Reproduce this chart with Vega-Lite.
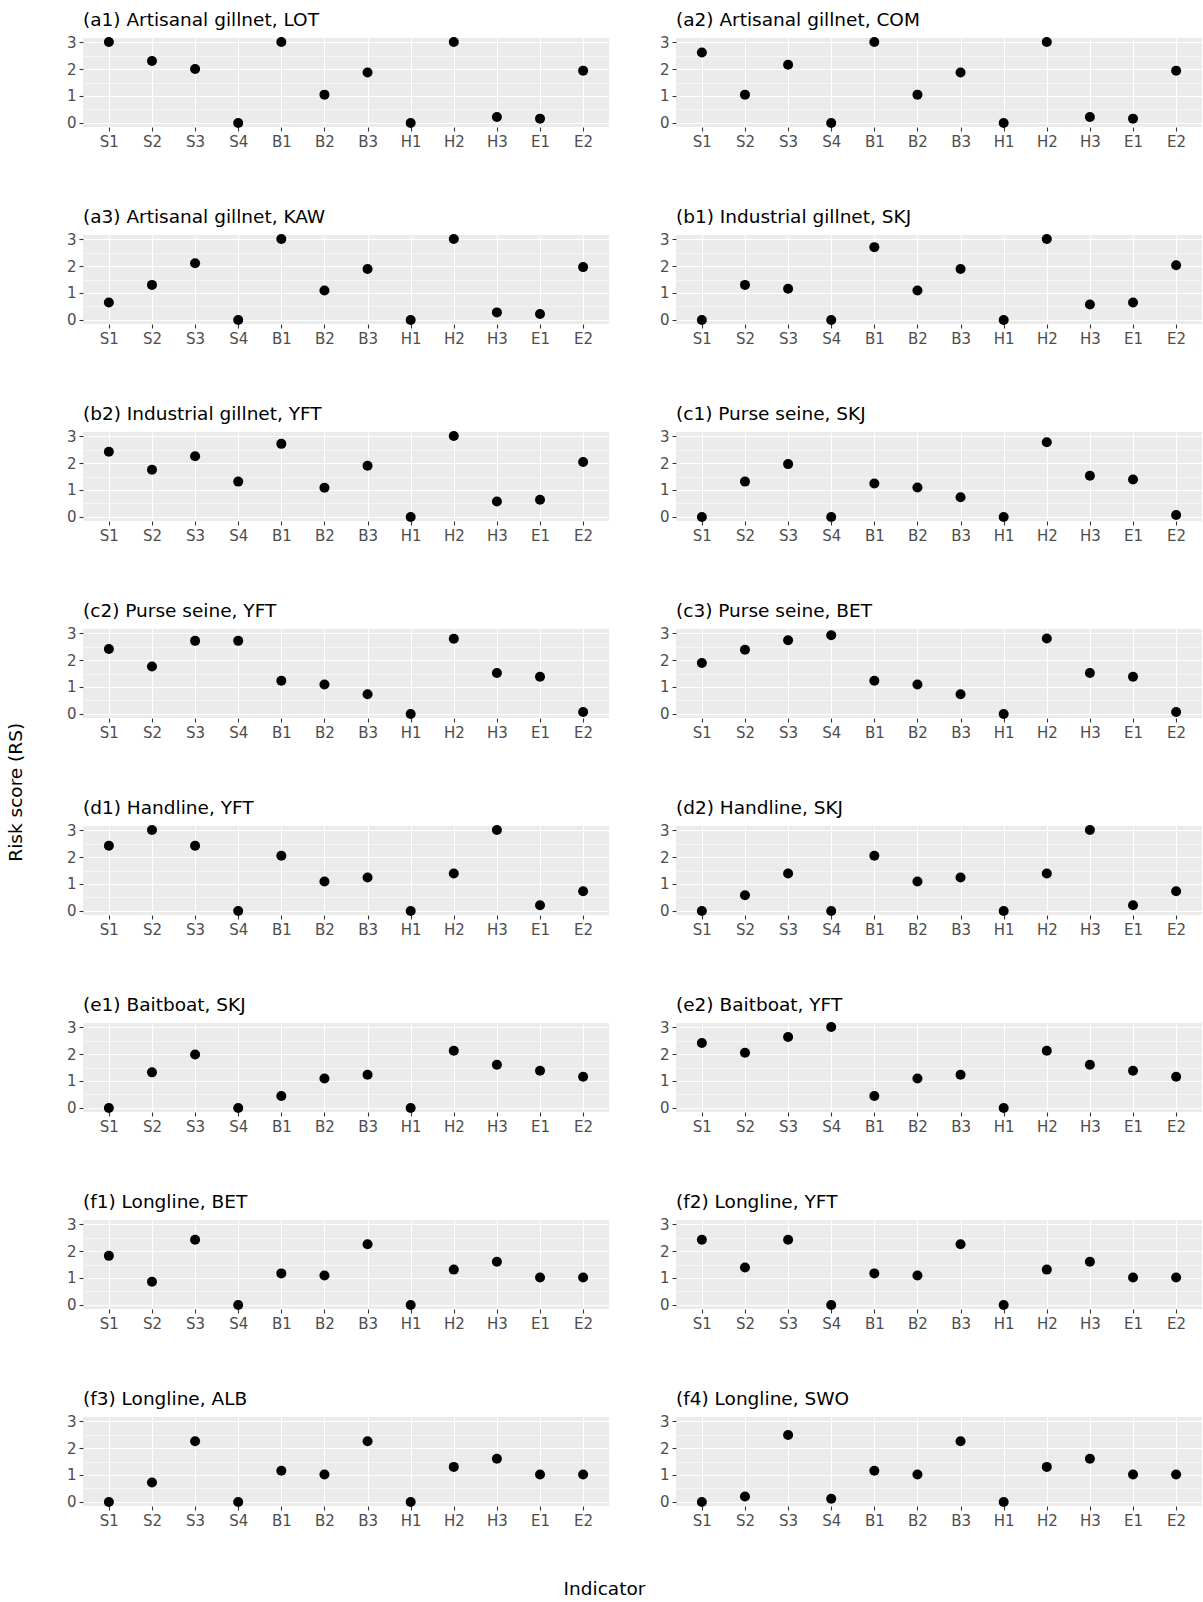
{
  "$schema": "https://vega.github.io/schema/vega-lite/v6.json",
  "background": "white",
  "padding": {"left": 6, "top": 10, "right": 0, "bottom": 4},
  "title": {"text": "Indicator", "orient": "bottom", "anchor": "middle", "fontSize": 18.5, "font": "DejaVu Sans", "fontWeight": "normal", "color": "black", "offset": 52},
  "config": {
    "view": {"fill": "#EBEBEB", "stroke": null},
    "font": "DejaVu Sans",
    "axis": {"domain": false, "tickColor": "#333333", "tickSize": 4, "tickWidth": 1.1, "labelColor": "#4D4D4D", "labelFontSize": 15, "labelFont": "DejaVu Sans", "labelPadding": 3, "gridColor": "white", "title": null}
  },
  "vconcat": [
    {
      "title": {"text": "Risk score (RS)", "orient": "left", "anchor": "middle", "fontSize": 18.5, "font": "DejaVu Sans", "fontWeight": "normal", "color": "black", "offset": 41, "dx": -23},
      "data": {"values": [
        {"panel": "(a1) Artisanal gillnet, LOT", "indicator": "S1", "rs": 3},
        {"panel": "(a1) Artisanal gillnet, LOT", "indicator": "S2", "rs": 2.3},
        {"panel": "(a1) Artisanal gillnet, LOT", "indicator": "S3", "rs": 2.0},
        {"panel": "(a1) Artisanal gillnet, LOT", "indicator": "S4", "rs": 0},
        {"panel": "(a1) Artisanal gillnet, LOT", "indicator": "B1", "rs": 3},
        {"panel": "(a1) Artisanal gillnet, LOT", "indicator": "B2", "rs": 1.05},
        {"panel": "(a1) Artisanal gillnet, LOT", "indicator": "B3", "rs": 1.87},
        {"panel": "(a1) Artisanal gillnet, LOT", "indicator": "H1", "rs": 0},
        {"panel": "(a1) Artisanal gillnet, LOT", "indicator": "H2", "rs": 3},
        {"panel": "(a1) Artisanal gillnet, LOT", "indicator": "H3", "rs": 0.22},
        {"panel": "(a1) Artisanal gillnet, LOT", "indicator": "E1", "rs": 0.16},
        {"panel": "(a1) Artisanal gillnet, LOT", "indicator": "E2", "rs": 1.94},
        {"panel": "(a2) Artisanal gillnet, COM", "indicator": "S1", "rs": 2.61},
        {"panel": "(a2) Artisanal gillnet, COM", "indicator": "S2", "rs": 1.05},
        {"panel": "(a2) Artisanal gillnet, COM", "indicator": "S3", "rs": 2.16},
        {"panel": "(a2) Artisanal gillnet, COM", "indicator": "S4", "rs": 0},
        {"panel": "(a2) Artisanal gillnet, COM", "indicator": "B1", "rs": 3},
        {"panel": "(a2) Artisanal gillnet, COM", "indicator": "B2", "rs": 1.05},
        {"panel": "(a2) Artisanal gillnet, COM", "indicator": "B3", "rs": 1.87},
        {"panel": "(a2) Artisanal gillnet, COM", "indicator": "H1", "rs": 0},
        {"panel": "(a2) Artisanal gillnet, COM", "indicator": "H2", "rs": 3},
        {"panel": "(a2) Artisanal gillnet, COM", "indicator": "H3", "rs": 0.22},
        {"panel": "(a2) Artisanal gillnet, COM", "indicator": "E1", "rs": 0.16},
        {"panel": "(a2) Artisanal gillnet, COM", "indicator": "E2", "rs": 1.94},
        {"panel": "(a3) Artisanal gillnet, KAW", "indicator": "S1", "rs": 0.65},
        {"panel": "(a3) Artisanal gillnet, KAW", "indicator": "S2", "rs": 1.3},
        {"panel": "(a3) Artisanal gillnet, KAW", "indicator": "S3", "rs": 2.1},
        {"panel": "(a3) Artisanal gillnet, KAW", "indicator": "S4", "rs": 0},
        {"panel": "(a3) Artisanal gillnet, KAW", "indicator": "B1", "rs": 3},
        {"panel": "(a3) Artisanal gillnet, KAW", "indicator": "B2", "rs": 1.09},
        {"panel": "(a3) Artisanal gillnet, KAW", "indicator": "B3", "rs": 1.89},
        {"panel": "(a3) Artisanal gillnet, KAW", "indicator": "H1", "rs": 0},
        {"panel": "(a3) Artisanal gillnet, KAW", "indicator": "H2", "rs": 3},
        {"panel": "(a3) Artisanal gillnet, KAW", "indicator": "H3", "rs": 0.28},
        {"panel": "(a3) Artisanal gillnet, KAW", "indicator": "E1", "rs": 0.22},
        {"panel": "(a3) Artisanal gillnet, KAW", "indicator": "E2", "rs": 1.96},
        {"panel": "(b1) Industrial gillnet, SKJ", "indicator": "S1", "rs": 0},
        {"panel": "(b1) Industrial gillnet, SKJ", "indicator": "S2", "rs": 1.3},
        {"panel": "(b1) Industrial gillnet, SKJ", "indicator": "S3", "rs": 1.16},
        {"panel": "(b1) Industrial gillnet, SKJ", "indicator": "S4", "rs": 0},
        {"panel": "(b1) Industrial gillnet, SKJ", "indicator": "B1", "rs": 2.7},
        {"panel": "(b1) Industrial gillnet, SKJ", "indicator": "B2", "rs": 1.09},
        {"panel": "(b1) Industrial gillnet, SKJ", "indicator": "B3", "rs": 1.89},
        {"panel": "(b1) Industrial gillnet, SKJ", "indicator": "H1", "rs": 0},
        {"panel": "(b1) Industrial gillnet, SKJ", "indicator": "H2", "rs": 3},
        {"panel": "(b1) Industrial gillnet, SKJ", "indicator": "H3", "rs": 0.57},
        {"panel": "(b1) Industrial gillnet, SKJ", "indicator": "E1", "rs": 0.65},
        {"panel": "(b1) Industrial gillnet, SKJ", "indicator": "E2", "rs": 2.03},
        {"panel": "(b2) Industrial gillnet, YFT", "indicator": "S1", "rs": 2.42},
        {"panel": "(b2) Industrial gillnet, YFT", "indicator": "S2", "rs": 1.75},
        {"panel": "(b2) Industrial gillnet, YFT", "indicator": "S3", "rs": 2.25},
        {"panel": "(b2) Industrial gillnet, YFT", "indicator": "S4", "rs": 1.31},
        {"panel": "(b2) Industrial gillnet, YFT", "indicator": "B1", "rs": 2.71},
        {"panel": "(b2) Industrial gillnet, YFT", "indicator": "B2", "rs": 1.08},
        {"panel": "(b2) Industrial gillnet, YFT", "indicator": "B3", "rs": 1.9},
        {"panel": "(b2) Industrial gillnet, YFT", "indicator": "H1", "rs": 0},
        {"panel": "(b2) Industrial gillnet, YFT", "indicator": "H2", "rs": 3},
        {"panel": "(b2) Industrial gillnet, YFT", "indicator": "H3", "rs": 0.57},
        {"panel": "(b2) Industrial gillnet, YFT", "indicator": "E1", "rs": 0.64},
        {"panel": "(b2) Industrial gillnet, YFT", "indicator": "E2", "rs": 2.04},
        {"panel": "(c1) Purse seine, SKJ", "indicator": "S1", "rs": 0},
        {"panel": "(c1) Purse seine, SKJ", "indicator": "S2", "rs": 1.31},
        {"panel": "(c1) Purse seine, SKJ", "indicator": "S3", "rs": 1.96},
        {"panel": "(c1) Purse seine, SKJ", "indicator": "S4", "rs": 0},
        {"panel": "(c1) Purse seine, SKJ", "indicator": "B1", "rs": 1.24},
        {"panel": "(c1) Purse seine, SKJ", "indicator": "B2", "rs": 1.09},
        {"panel": "(c1) Purse seine, SKJ", "indicator": "B3", "rs": 0.73},
        {"panel": "(c1) Purse seine, SKJ", "indicator": "H1", "rs": 0},
        {"panel": "(c1) Purse seine, SKJ", "indicator": "H2", "rs": 2.77},
        {"panel": "(c1) Purse seine, SKJ", "indicator": "H3", "rs": 1.53},
        {"panel": "(c1) Purse seine, SKJ", "indicator": "E1", "rs": 1.39},
        {"panel": "(c1) Purse seine, SKJ", "indicator": "E2", "rs": 0.07},
        {"panel": "(c2) Purse seine, YFT", "indicator": "S1", "rs": 2.41},
        {"panel": "(c2) Purse seine, YFT", "indicator": "S2", "rs": 1.76},
        {"panel": "(c2) Purse seine, YFT", "indicator": "S3", "rs": 2.71},
        {"panel": "(c2) Purse seine, YFT", "indicator": "S4", "rs": 2.71},
        {"panel": "(c2) Purse seine, YFT", "indicator": "B1", "rs": 1.23},
        {"panel": "(c2) Purse seine, YFT", "indicator": "B2", "rs": 1.09},
        {"panel": "(c2) Purse seine, YFT", "indicator": "B3", "rs": 0.73},
        {"panel": "(c2) Purse seine, YFT", "indicator": "H1", "rs": 0},
        {"panel": "(c2) Purse seine, YFT", "indicator": "H2", "rs": 2.79},
        {"panel": "(c2) Purse seine, YFT", "indicator": "H3", "rs": 1.52},
        {"panel": "(c2) Purse seine, YFT", "indicator": "E1", "rs": 1.38},
        {"panel": "(c2) Purse seine, YFT", "indicator": "E2", "rs": 0.07},
        {"panel": "(c3) Purse seine, BET", "indicator": "S1", "rs": 1.89},
        {"panel": "(c3) Purse seine, BET", "indicator": "S2", "rs": 2.38},
        {"panel": "(c3) Purse seine, BET", "indicator": "S3", "rs": 2.73},
        {"panel": "(c3) Purse seine, BET", "indicator": "S4", "rs": 2.92},
        {"panel": "(c3) Purse seine, BET", "indicator": "B1", "rs": 1.23},
        {"panel": "(c3) Purse seine, BET", "indicator": "B2", "rs": 1.09},
        {"panel": "(c3) Purse seine, BET", "indicator": "B3", "rs": 0.73},
        {"panel": "(c3) Purse seine, BET", "indicator": "H1", "rs": 0},
        {"panel": "(c3) Purse seine, BET", "indicator": "H2", "rs": 2.8},
        {"panel": "(c3) Purse seine, BET", "indicator": "H3", "rs": 1.52},
        {"panel": "(c3) Purse seine, BET", "indicator": "E1", "rs": 1.38},
        {"panel": "(c3) Purse seine, BET", "indicator": "E2", "rs": 0.07},
        {"panel": "(d1) Handline, YFT", "indicator": "S1", "rs": 2.42},
        {"panel": "(d1) Handline, YFT", "indicator": "S2", "rs": 3},
        {"panel": "(d1) Handline, YFT", "indicator": "S3", "rs": 2.42},
        {"panel": "(d1) Handline, YFT", "indicator": "S4", "rs": 0},
        {"panel": "(d1) Handline, YFT", "indicator": "B1", "rs": 2.05},
        {"panel": "(d1) Handline, YFT", "indicator": "B2", "rs": 1.09},
        {"panel": "(d1) Handline, YFT", "indicator": "B3", "rs": 1.24},
        {"panel": "(d1) Handline, YFT", "indicator": "H1", "rs": 0},
        {"panel": "(d1) Handline, YFT", "indicator": "H2", "rs": 1.39},
        {"panel": "(d1) Handline, YFT", "indicator": "H3", "rs": 3},
        {"panel": "(d1) Handline, YFT", "indicator": "E1", "rs": 0.21},
        {"panel": "(d1) Handline, YFT", "indicator": "E2", "rs": 0.73},
        {"panel": "(d2) Handline, SKJ", "indicator": "S1", "rs": 0},
        {"panel": "(d2) Handline, SKJ", "indicator": "S2", "rs": 0.58},
        {"panel": "(d2) Handline, SKJ", "indicator": "S3", "rs": 1.39},
        {"panel": "(d2) Handline, SKJ", "indicator": "S4", "rs": 0},
        {"panel": "(d2) Handline, SKJ", "indicator": "B1", "rs": 2.05},
        {"panel": "(d2) Handline, SKJ", "indicator": "B2", "rs": 1.09},
        {"panel": "(d2) Handline, SKJ", "indicator": "B3", "rs": 1.24},
        {"panel": "(d2) Handline, SKJ", "indicator": "H1", "rs": 0},
        {"panel": "(d2) Handline, SKJ", "indicator": "H2", "rs": 1.39},
        {"panel": "(d2) Handline, SKJ", "indicator": "H3", "rs": 3},
        {"panel": "(d2) Handline, SKJ", "indicator": "E1", "rs": 0.21},
        {"panel": "(d2) Handline, SKJ", "indicator": "E2", "rs": 0.73},
        {"panel": "(e1) Baitboat, SKJ", "indicator": "S1", "rs": 0},
        {"panel": "(e1) Baitboat, SKJ", "indicator": "S2", "rs": 1.32},
        {"panel": "(e1) Baitboat, SKJ", "indicator": "S3", "rs": 1.98},
        {"panel": "(e1) Baitboat, SKJ", "indicator": "S4", "rs": 0},
        {"panel": "(e1) Baitboat, SKJ", "indicator": "B1", "rs": 0.44},
        {"panel": "(e1) Baitboat, SKJ", "indicator": "B2", "rs": 1.09},
        {"panel": "(e1) Baitboat, SKJ", "indicator": "B3", "rs": 1.23},
        {"panel": "(e1) Baitboat, SKJ", "indicator": "H1", "rs": 0},
        {"panel": "(e1) Baitboat, SKJ", "indicator": "H2", "rs": 2.12},
        {"panel": "(e1) Baitboat, SKJ", "indicator": "H3", "rs": 1.6},
        {"panel": "(e1) Baitboat, SKJ", "indicator": "E1", "rs": 1.38},
        {"panel": "(e1) Baitboat, SKJ", "indicator": "E2", "rs": 1.16},
        {"panel": "(e2) Baitboat, YFT", "indicator": "S1", "rs": 2.41},
        {"panel": "(e2) Baitboat, YFT", "indicator": "S2", "rs": 2.05},
        {"panel": "(e2) Baitboat, YFT", "indicator": "S3", "rs": 2.63},
        {"panel": "(e2) Baitboat, YFT", "indicator": "S4", "rs": 3},
        {"panel": "(e2) Baitboat, YFT", "indicator": "B1", "rs": 0.44},
        {"panel": "(e2) Baitboat, YFT", "indicator": "B2", "rs": 1.09},
        {"panel": "(e2) Baitboat, YFT", "indicator": "B3", "rs": 1.23},
        {"panel": "(e2) Baitboat, YFT", "indicator": "H1", "rs": 0},
        {"panel": "(e2) Baitboat, YFT", "indicator": "H2", "rs": 2.12},
        {"panel": "(e2) Baitboat, YFT", "indicator": "H3", "rs": 1.6},
        {"panel": "(e2) Baitboat, YFT", "indicator": "E1", "rs": 1.38},
        {"panel": "(e2) Baitboat, YFT", "indicator": "E2", "rs": 1.16},
        {"panel": "(f1) Longline, BET", "indicator": "S1", "rs": 1.82},
        {"panel": "(f1) Longline, BET", "indicator": "S2", "rs": 0.86},
        {"panel": "(f1) Longline, BET", "indicator": "S3", "rs": 2.42},
        {"panel": "(f1) Longline, BET", "indicator": "S4", "rs": 0},
        {"panel": "(f1) Longline, BET", "indicator": "B1", "rs": 1.17},
        {"panel": "(f1) Longline, BET", "indicator": "B2", "rs": 1.09},
        {"panel": "(f1) Longline, BET", "indicator": "B3", "rs": 2.25},
        {"panel": "(f1) Longline, BET", "indicator": "H1", "rs": 0},
        {"panel": "(f1) Longline, BET", "indicator": "H2", "rs": 1.31},
        {"panel": "(f1) Longline, BET", "indicator": "H3", "rs": 1.6},
        {"panel": "(f1) Longline, BET", "indicator": "E1", "rs": 1.02},
        {"panel": "(f1) Longline, BET", "indicator": "E2", "rs": 1.02},
        {"panel": "(f2) Longline, YFT", "indicator": "S1", "rs": 2.42},
        {"panel": "(f2) Longline, YFT", "indicator": "S2", "rs": 1.39},
        {"panel": "(f2) Longline, YFT", "indicator": "S3", "rs": 2.42},
        {"panel": "(f2) Longline, YFT", "indicator": "S4", "rs": 0},
        {"panel": "(f2) Longline, YFT", "indicator": "B1", "rs": 1.17},
        {"panel": "(f2) Longline, YFT", "indicator": "B2", "rs": 1.09},
        {"panel": "(f2) Longline, YFT", "indicator": "B3", "rs": 2.25},
        {"panel": "(f2) Longline, YFT", "indicator": "H1", "rs": 0},
        {"panel": "(f2) Longline, YFT", "indicator": "H2", "rs": 1.31},
        {"panel": "(f2) Longline, YFT", "indicator": "H3", "rs": 1.6},
        {"panel": "(f2) Longline, YFT", "indicator": "E1", "rs": 1.02},
        {"panel": "(f2) Longline, YFT", "indicator": "E2", "rs": 1.02},
        {"panel": "(f3) Longline, ALB", "indicator": "S1", "rs": 0},
        {"panel": "(f3) Longline, ALB", "indicator": "S2", "rs": 0.72},
        {"panel": "(f3) Longline, ALB", "indicator": "S3", "rs": 2.25},
        {"panel": "(f3) Longline, ALB", "indicator": "S4", "rs": 0},
        {"panel": "(f3) Longline, ALB", "indicator": "B1", "rs": 1.16},
        {"panel": "(f3) Longline, ALB", "indicator": "B2", "rs": 1.02},
        {"panel": "(f3) Longline, ALB", "indicator": "B3", "rs": 2.25},
        {"panel": "(f3) Longline, ALB", "indicator": "H1", "rs": 0},
        {"panel": "(f3) Longline, ALB", "indicator": "H2", "rs": 1.3},
        {"panel": "(f3) Longline, ALB", "indicator": "H3", "rs": 1.6},
        {"panel": "(f3) Longline, ALB", "indicator": "E1", "rs": 1.02},
        {"panel": "(f3) Longline, ALB", "indicator": "E2", "rs": 1.02},
        {"panel": "(f4) Longline, SWO", "indicator": "S1", "rs": 0},
        {"panel": "(f4) Longline, SWO", "indicator": "S2", "rs": 0.2},
        {"panel": "(f4) Longline, SWO", "indicator": "S3", "rs": 2.48},
        {"panel": "(f4) Longline, SWO", "indicator": "S4", "rs": 0.12},
        {"panel": "(f4) Longline, SWO", "indicator": "B1", "rs": 1.16},
        {"panel": "(f4) Longline, SWO", "indicator": "B2", "rs": 1.02},
        {"panel": "(f4) Longline, SWO", "indicator": "B3", "rs": 2.25},
        {"panel": "(f4) Longline, SWO", "indicator": "H1", "rs": 0},
        {"panel": "(f4) Longline, SWO", "indicator": "H2", "rs": 1.3},
        {"panel": "(f4) Longline, SWO", "indicator": "H3", "rs": 1.6},
        {"panel": "(f4) Longline, SWO", "indicator": "E1", "rs": 1.02},
        {"panel": "(f4) Longline, SWO", "indicator": "E2", "rs": 1.02}
      ]},
      "facet": {"field": "panel", "type": "nominal", "sort": "ascending",
        "header": {"title": null, "labelFontSize": 18.5, "labelFont": "DejaVu Sans", "labelColor": "black", "labelAnchor": "start", "labelAlign": "left", "labelPadding": 6, "labelOrient": "top"}},
      "columns": 2,
      "spacing": {"row": 58, "column": 50},
      "resolve": {"axis": {"x": "independent", "y": "independent"}},
      "spec": {
        "width": 526,
        "height": 89,
        "mark": {"type": "point", "filled": true, "size": 100, "color": "black", "opacity": 1},
        "encoding": {
          "x": {"field": "indicator", "type": "nominal",
            "sort": ["S1", "S2", "S3", "S4", "B1", "B2", "B3", "H1", "H2", "H3", "E1", "E2"],
            "scale": {"type": "point", "padding": 0.6},
            "axis": {"labelAngle": 0, "grid": true, "gridWidth": 1.1, "ticks": true, "title": null}},
          "y": {"field": "rs", "type": "quantitative",
            "scale": {"domain": [-0.15, 3.15], "nice": false, "zero": false},
            "axis": {"values": [0, 0.5, 1, 1.5, 2, 2.5, 3], "grid": true,
              "labelExpr": "datum.value % 1 === 0 ? '' + datum.value : ''",
              "gridWidth": {"condition": {"test": "datum.value % 1 !== 0", "value": 0.55}, "value": 1.1},
              "tickOpacity": {"condition": {"test": "datum.value % 1 !== 0", "value": 0}, "value": 1},
              "title": null}}
        }
      }
    }
  ]
}
